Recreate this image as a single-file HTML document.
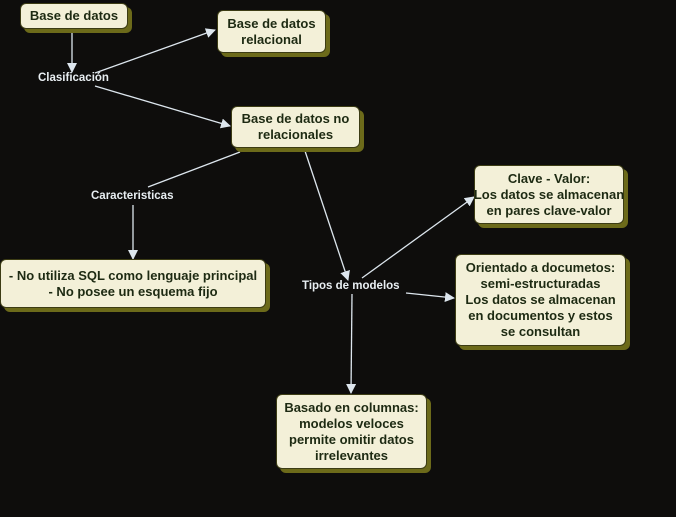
<!DOCTYPE html>
<html><head><meta charset="utf-8"><style>
body{margin:0;width:676px;height:517px;background:#0e0d0c;position:relative;overflow:hidden;font-family:"Liberation Sans",sans-serif;font-weight:bold}
.n{position:absolute;box-sizing:border-box;background:#f3f0d8;border:1.5px solid #3c3c14;border-radius:6px;box-shadow:4px 4px 0 #6c6a1a;color:#1d2a12;font-size:13px;line-height:16px;text-align:center;display:flex;align-items:center;justify-content:center;white-space:nowrap;padding:0}
.l{position:absolute;color:#e8eef2;font-size:11.5px;white-space:nowrap}
svg{position:absolute;left:0;top:0}
</style></head><body>
<svg width="676" height="517">
<defs><marker id="a" markerWidth="10" markerHeight="10" refX="9" refY="5" orient="auto" markerUnits="userSpaceOnUse" viewBox="0 0 10 10"><path d="M0,0L10,5L0,10z" fill="#dde6ee"/></marker></defs>
<g stroke="#dde6ee" stroke-width="1.3" fill="none">
<line x1="72" y1="33" x2="72" y2="72" marker-end="url(#a)"/>
<line x1="95" y1="73" x2="215" y2="30" marker-end="url(#a)"/>
<line x1="95" y1="86" x2="230" y2="126" marker-end="url(#a)"/>
<line x1="240" y1="152" x2="148" y2="187"/>
<line x1="133" y1="205" x2="133" y2="259" marker-end="url(#a)"/>
<line x1="305" y1="151" x2="348" y2="280" marker-end="url(#a)"/>
<line x1="362" y1="278" x2="474" y2="197" marker-end="url(#a)"/>
<line x1="406" y1="293" x2="454" y2="298" marker-end="url(#a)"/>
<line x1="352" y1="294" x2="351" y2="393" marker-end="url(#a)"/>
</g></svg>
<div class="n" style="left:20px;top:3px;width:108px;height:26px">Base de datos</div>
<div class="n" style="left:217px;top:10px;width:109px;height:43px">Base de datos<br>relacional</div>
<div class="n" style="left:231px;top:106px;width:129px;height:42px">Base de datos no<br>relacionales</div>
<div class="n" style="left:474px;top:165px;width:150px;height:59px">Clave - Valor:<br>Los datos se almacenan<br>en pares clave-valor</div>
<div class="n" style="left:455px;top:254px;width:171px;height:92px">Orientado a documetos:<br>semi-estructuradas<br>Los datos se almacenan<br>en documentos y estos<br>se consultan</div>
<div class="n" style="left:0px;top:259px;width:266px;height:49px">- No utiliza SQL como lenguaje principal<br>- No posee un esquema fijo</div>
<div class="n" style="left:276px;top:394px;width:151px;height:75px">Basado en columnas:<br>modelos veloces<br>permite omitir datos<br>irrelevantes</div>
<div class="l" style="left:38px;top:72px">Clasificación</div>
<div class="l" style="left:91px;top:190px">Caracteristicas</div>
<div class="l" style="left:302px;top:280px">Tipos de modelos</div>
</body></html>
